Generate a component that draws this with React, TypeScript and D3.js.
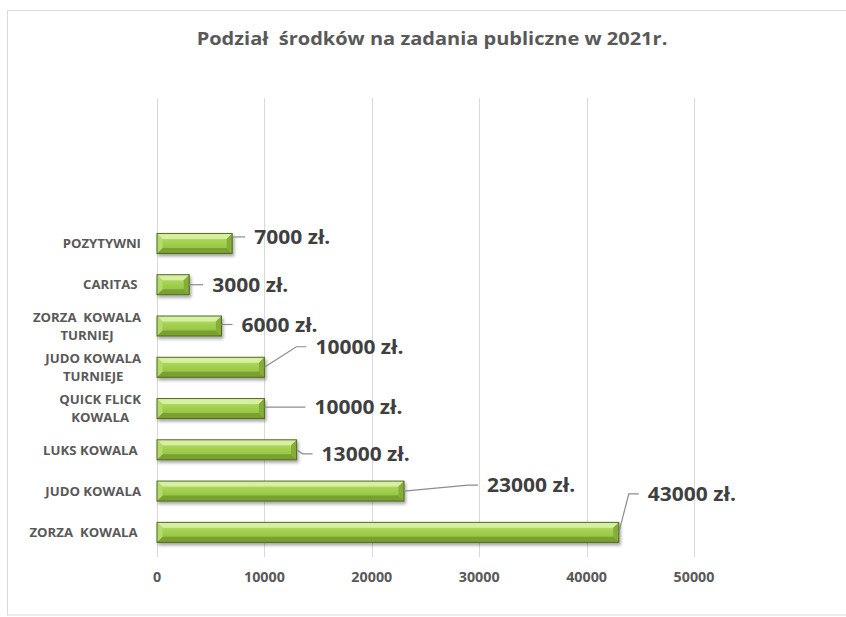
import React, { useEffect, useRef } from "react";
import * as d3 from "d3";

const title = "Podział  środków na zadania publiczne w 2021r.";
// bottom to top; the top three slots of the category axis are empty
const categories = [
  "ZORZA  KOWALA ",
  "JUDO KOWALA",
  "LUKS KOWALA ",
  "QUICK FLICK|KOWALA",
  "JUDO KOWALA|TURNIEJE",
  "ZORZA  KOWALA|TURNIEJ",
  "CARITAS ",
  "POZYTYWNI",
  "",
  " ",
  "  ",
];
const values = [43000, 23000, 13000, 10000, 10000, 6000, 3000, 7000];
const labelTexts = values.map((v) => `${v} zł.`);
const xTicks = [0, 10000, 20000, 30000, 40000, 50000];
// manual data-label placement (dx from bar end, dy from bar centre)
const labelOffsets: [number, number][] = [
  [29, -38.5],
  [83, -6],
  [25, 4],
  [50, -1.5],
  [51, -20.5],
  [20, -1.5],
  [23, 0],
  [22, -6.5],
];

const W = 846;
const H = 617;
const FONT = "'Open Sans', 'DejaVu Sans', sans-serif";

export default function App() {
  const ref = useRef<SVGSVGElement | null>(null);

  useEffect(() => {
    const svg = d3.select(ref.current);
    svg.selectAll("*").remove();

    const x = d3.scaleLinear().domain([0, 50000]).range([157, 694]);
    const y = d3
      .scaleBand<string>()
      .domain(categories)
      .range([553, 99])
      .paddingInner(0.515)
      .paddingOuter(0.2575);

    const defs = svg.append("defs");
    const grad = defs
      .append("linearGradient")
      .attr("id", "barGrad")
      .attr("x1", 0)
      .attr("y1", 0)
      .attr("x2", 0)
      .attr("y2", 1);
    [
      ["0%", "#c6e684"],
      ["35%", "#a8d456"],
      ["70%", "#98c646"],
      ["100%", "#82ad36"],
    ].forEach(([o, c]) => grad.append("stop").attr("offset", o).attr("stop-color", c));

    const f = defs
      .append("filter")
      .attr("id", "shadow")
      .attr("x", "-10%")
      .attr("y", "-30%")
      .attr("width", "130%")
      .attr("height", "180%");
    f.append("feDropShadow")
      .attr("dx", 1.5)
      .attr("dy", 2.5)
      .attr("stdDeviation", 1.5)
      .attr("flood-color", "#000")
      .attr("flood-opacity", 0.35);

    // outer border
    svg
      .append("rect")
      .attr("x", 7.5)
      .attr("y", 10.5)
      .attr("width", 860)
      .attr("height", 604.5)
      .attr("fill", "#fff")
      .attr("stroke", "#d9d9d9")
      .attr("stroke-width", 1);

    // title
    svg
      .append("text")
      .attr("transform", "translate(432,45) scale(1.1,1)")
      .attr("text-anchor", "middle")
      .attr("font-family", FONT)
      .attr("font-weight", 700)
      .attr("font-size", 18.2)
      .attr("fill", "#595959")
      .style("white-space", "pre")
      .text(title);

    // gridlines + tick marks
    svg
      .append("g")
      .selectAll("line")
      .data(xTicks)
      .join("line")
      .attr("x1", (d) => Math.round(x(d)) + 0.5)
      .attr("x2", (d) => Math.round(x(d)) + 0.5)
      .attr("y1", 98)
      .attr("y2", 557)
      .attr("stroke", "#d9d9d9")
      .attr("stroke-width", 1);

    // tick labels
    svg
      .append("g")
      .selectAll("text")
      .data(xTicks)
      .join("text")
      .attr("transform", (d) => `translate(${x(d)},582) scale(1.06,1)`)
      .attr("text-anchor", "middle")
      .attr("font-family", FONT)
      .attr("font-weight", 700)
      .attr("font-size", 13.5)
      .attr("fill", "#595959")
      .text((d) => String(d));

    // category labels
    const catG = svg.append("g");
    categories.forEach((c) => {
      if (!c.trim()) return;
      const lines = c.split("|");
      const yc = (y(c) as number) + y.bandwidth() / 2;
      const lh = 18.3;
      const t = catG
        .append("text")
        .attr("font-family", FONT)
        .attr("font-weight", 700)
        .attr("font-size", 13.2)
        .attr("fill", "#595959")
        .style("white-space", "pre");
      const spans = lines.map((ln, i) =>
        t
          .append("tspan")
          .attr("y", yc + (i - (lines.length - 1) / 2) * lh)
          .attr("dy", "0.36em")
          .text(ln)
      );
      const widths = spans.map((s) => (s.node() as SVGTextContentElement).getComputedTextLength());
      const maxW = Math.max(...widths);
      const right = 141;
      if (lines.length === 1) {
        spans[0].attr("x", right).attr("text-anchor", "end");
      } else {
        spans.forEach((s) => s.attr("x", right - maxW / 2).attr("text-anchor", "middle"));
      }
    });

    // bars
    const barG = svg.append("g");
    values.forEach((v, i) => {
      const c = categories[i];
      const x0 = x(0);
      const x1 = x(v);
      const y0 = y(c) as number;
      const y1 = y0 + y.bandwidth();
      const b = 5.5;
      const g = barG.append("g").attr("filter", "url(#shadow)");
      g.append("rect")
        .attr("x", x0)
        .attr("y", y0)
        .attr("width", x1 - x0)
        .attr("height", y1 - y0)
        .attr("fill", "url(#barGrad)");
      const poly = (pts: [number, number][], fill: string) =>
        g.append("polygon").attr("points", pts.map((p) => p.join(",")).join(" ")).attr("fill", fill);
      poly([[x0, y0], [x1, y0], [x1 - b, y0 + b], [x0 + b, y0 + b]], "#d6efa3");
      poly([[x0, y1], [x1, y1], [x1 - b, y1 - b], [x0 + b, y1 - b]], "#7aa030");
      poly([[x0, y0], [x0 + b, y0 + b], [x0 + b, y1 - b], [x0, y1]], "#b3da6a");
      poly([[x1, y0], [x1 - b, y0 + b], [x1 - b, y1 - b], [x1, y1]], "#86ad38");
      g.append("rect")
        .attr("x", x0)
        .attr("y", y0)
        .attr("width", x1 - x0)
        .attr("height", y1 - y0)
        .attr("fill", "none")
        .attr("stroke", "#4f6a1e")
        .attr("stroke-width", 1);
    });

    // data labels with leader lines
    const lblG = svg.append("g");
    values.forEach((v, i) => {
      const c = categories[i];
      const xe = x(v);
      const yc = (y(c) as number) + y.bandwidth() / 2;
      const [dx, dy] = labelOffsets[i];
      const lx = xe + dx;
      const ly = yc + dy;
      let pts: [number, number][];
      if (Math.abs(dy) >= 3.5 && dx > 24) {
        pts = [
          [xe, yc],
          [lx - 19, ly],
          [lx - 9, ly],
        ];
      } else {
        pts = [
          [xe, ly],
          [lx - 9, ly],
        ];
      }
      lblG
        .append("path")
        .attr("d", d3.line()(pts) as string)
        .attr("fill", "none")
        .attr("stroke", "#8c8c8c")
        .attr("stroke-width", 1.2);
      lblG
        .append("text")
        .attr("transform", `translate(${lx},${ly}) scale(1.05,1)`)
        .attr("dy", "0.36em")
        .attr("font-family", FONT)
        .attr("font-weight", 700)
        .attr("font-size", 20)
        .attr("fill", "#404040")
        .text(labelTexts[i]);
    });
  }, []);

  return (
    <svg
      ref={ref}
      width={W}
      height={H}
      style={{ position: "absolute", left: 0, top: 0, background: "#fff" }}
    />
  );
}
